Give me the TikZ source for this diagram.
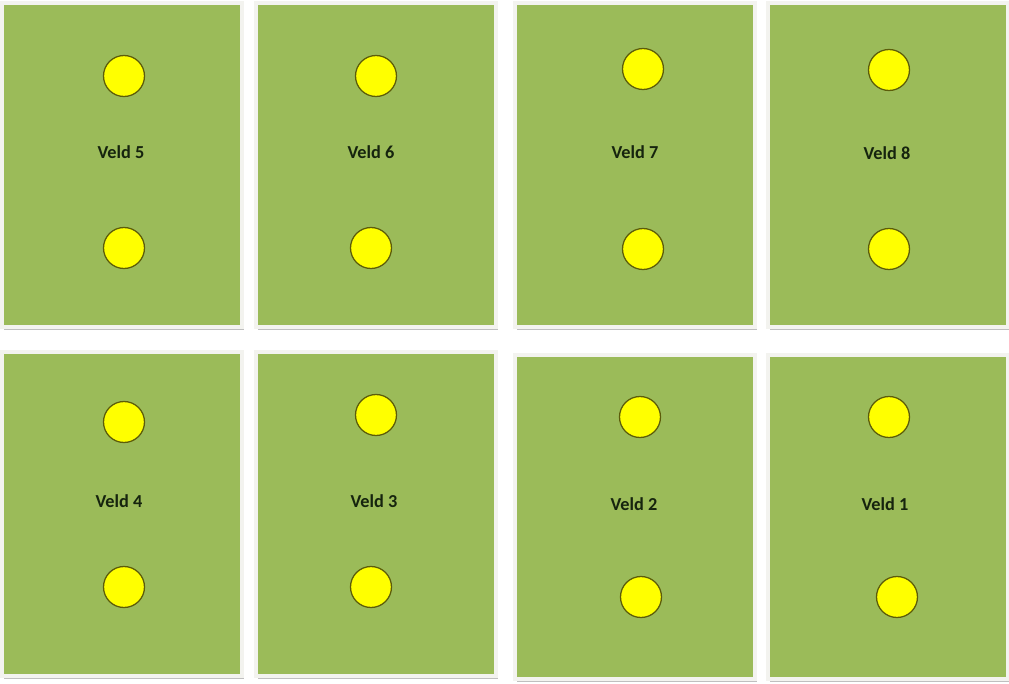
\documentclass[tikz,border=0pt]{standalone}
\usepackage{fontspec}
\setmainfont{Carlito}
\usetikzlibrary{shadows}
\definecolor{gras}{HTML}{9BBB59}
\definecolor{rand}{HTML}{F3F3EF}
\definecolor{schaduw}{HTML}{BFBFBF}
\definecolor{geel}{HTML}{FFFF00}
\definecolor{olijf}{HTML}{5C5C0A}
\definecolor{inkt}{HTML}{16240E}
\tikzset{
  veld/.style={rectangle, minimum width=6cm, minimum height=8.1cm, inner sep=0pt,
               fill=gras, draw=rand, line width=2.8pt,
               drop shadow={shadow xshift=0.05cm, shadow yshift=-0.07cm, fill=schaduw, opacity=1}},
  bal/.style={circle, minimum size=1.025cm, inner sep=0pt, fill=geel, draw=olijf, line width=0.9pt},
  veldnaam/.style={font=\fontsize{13}{15}\selectfont\bfseries, text=inkt, inner sep=0pt}
}
\begin{document}
\begin{tikzpicture}[x=0.025cm, y=-0.025cm]
  \useasboundingbox [fill=white] (0,0) rectangle (1009,684);
  % bovenste rij
  \node (v5) [veld] at (122,165) {};
  \node (v6) [veld] at (376,165) {};
  \node (v7) [veld] at (635,165) {};
  \node (v8) [veld] at (888,165) {};
  % onderste rij
  \node (v4) [veld] at (122,514) {};
  \node (v3) [veld] at (376,514) {};
  \node (v2) [veld] at (635,517) {};
  \node (v1) [veld] at (888,517) {};
  % namen
  \node (n5) [veldnaam] at (121,152) {Veld 5};
  \node (n6) [veldnaam] at (371,152) {Veld 6};
  \node (n7) [veldnaam] at (635,152) {Veld 7};
  \node (n8) [veldnaam] at (887,153) {Veld 8};
  \node (n4) [veldnaam] at (119,501) {Veld 4};
  \node (n3) [veldnaam] at (374,501) {Veld 3};
  \node (n2) [veldnaam] at (634,504) {Veld 2};
  \node (n1) [veldnaam] at (885,504) {Veld 1};
  % ballen
  \node (b5a) [bal] at (124,76) {};  \node (b5b) [bal] at (124,248) {};
  \node (b6a) [bal] at (376,76) {};  \node (b6b) [bal] at (371,248) {};
  \node (b7a) [bal] at (643,69) {};  \node (b7b) [bal] at (643,249) {};
  \node (b8a) [bal] at (889,70) {};  \node (b8b) [bal] at (889,249) {};
  \node (b4a) [bal] at (124,422) {}; \node (b4b) [bal] at (124,587) {};
  \node (b3a) [bal] at (376,415) {}; \node (b3b) [bal] at (371,587) {};
  \node (b2a) [bal] at (640,417) {}; \node (b2b) [bal] at (641,597) {};
  \node (b1a) [bal] at (889,417) {}; \node (b1b) [bal] at (897,597) {};
\end{tikzpicture}
\end{document}
